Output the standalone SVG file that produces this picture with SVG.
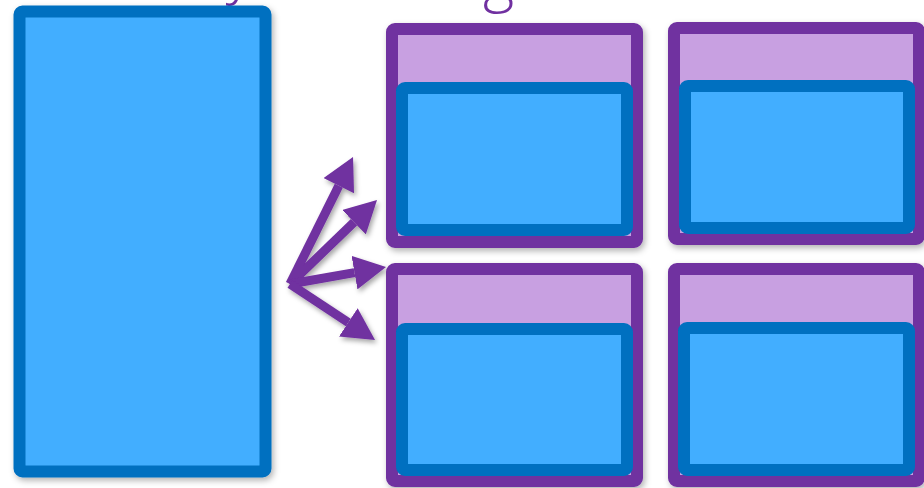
<svg xmlns="http://www.w3.org/2000/svg" width="924" height="488" viewBox="0 0 924 488">
<defs>
<filter id="sh" x="-10%" y="-10%" width="130%" height="130%">
<feDropShadow dx="2" dy="3" stdDeviation="3" flood-color="#000" flood-opacity="0.3"/>
</filter>
<filter id="sh2" filterUnits="userSpaceOnUse" x="260" y="130" width="160" height="240">
<feDropShadow dx="2" dy="3" stdDeviation="2.5" flood-color="#000" flood-opacity="0.35"/>
</filter>
<marker id="ah" viewBox="0 0 32 34" refX="0" refY="17" markerWidth="32" markerHeight="34" markerUnits="userSpaceOnUse" orient="auto">
<path d="M0,0 L32,17 L0,34 z" fill="#7030A0"/>
</marker>
</defs>
<style>
.blue{fill:#42AEFF;stroke:#0070C0;stroke-width:12}
.win{fill:#C8A0E1;stroke:#7030A0;stroke-width:12}
.arr{stroke:#7030A0;stroke-width:9;fill:none;marker-end:url(#ah)}
.title{font-family:"Open Sans","Liberation Sans",sans-serif;font-weight:300;font-size:60px;fill:#7030A0}
</style>
<rect width="924" height="488" fill="#fff"/>
<text class="title" x="226" y="-8">y</text>
<text class="title" x="483" y="0">g</text>
<g id="source" filter="url(#sh)">
<rect class="blue" x="19.5" y="11.5" width="246" height="460" rx="3" stroke-width="13"/>
</g>
<g id="connectors" filter="url(#sh2)">
<line class="arr" x1="290" y1="284" x2="338.8" y2="185.7"/>
<line class="arr" x1="290" y1="284" x2="354.0" y2="222.2"/>
<line class="arr" x1="290" y1="284" x2="354.5" y2="272.6"/>
<line class="arr" x1="290" y1="284" x2="348.3" y2="322.4"/>
</g>
<g id="window1" filter="url(#sh)">
<rect class="win" x="392" y="29" width="245" height="213" rx="3"/>
<rect class="blue" x="402" y="88" width="225" height="142" rx="3"/>
</g>
<g id="window2" filter="url(#sh)">
<rect class="win" x="674" y="28" width="245" height="211" rx="3"/>
<rect class="blue" x="685" y="86" width="224" height="142" rx="3"/>
</g>
<g id="window3" filter="url(#sh)">
<rect class="win" x="392" y="269" width="245" height="212" rx="3"/>
<rect class="blue" x="402" y="329" width="225" height="141" rx="3"/>
</g>
<g id="window4" filter="url(#sh)">
<rect class="win" x="674" y="269" width="245" height="212" rx="3"/>
<rect class="blue" x="684" y="328" width="225" height="142" rx="3"/>
</g>
</svg>
